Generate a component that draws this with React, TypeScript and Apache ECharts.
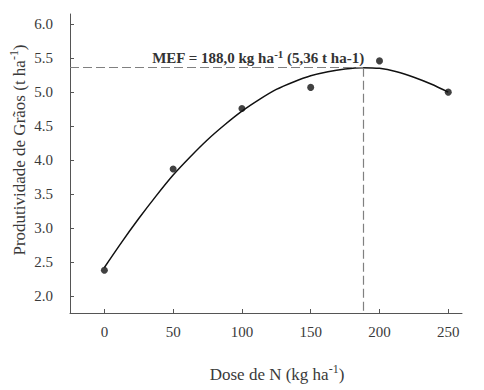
import React, { useEffect, useRef } from "react";
import * as echarts from "echarts";

const doses = [0, 50, 100, 150, 200, 250];
const yields = [2.38, 3.87, 4.76, 5.07, 5.46, 5.0];
const curveX = [0, 12.5, 25, 37.5, 50, 62.5, 75, 87.5, 100, 112.5, 125, 137.5, 150, 162.5, 175, 187.5, 200, 212.5, 225, 237.5, 250];
const curveY = [2.42, 2.79, 3.14, 3.47, 3.78, 4.05, 4.3, 4.52, 4.72, 4.89, 5.04, 5.15, 5.24, 5.3, 5.34, 5.36, 5.35, 5.3, 5.22, 5.12, 5.0];
const xTicks = [0, 50, 100, 150, 200, 250];
const yTicks = [2.0, 2.5, 3.0, 3.5, 4.0, 4.5, 5.0, 5.5, 6.0];
const mefDose = 188;
const mefYield = 5.36;

const FONT = "Liberation Serif";
const TXT = "#3a3a3a";
const AX = "#555555";

export default function App() {
  const ref = useRef<HTMLDivElement>(null);
  useEffect(() => {
    const chart = echarts.init(ref.current!, null, { renderer: "svg" });
    chart.setOption({
      animation: false,
      textStyle: { fontFamily: FONT },
      grid: { left: 70, top: 14, right: 22, bottom: 77 },
      xAxis: {
        type: "value",
        min: -25,
        max: 260,
        splitLine: { show: false },
        axisLine: { show: true, onZero: false, lineStyle: { color: AX, width: 1 } },
        axisTick: { show: true, inside: true, length: 4, customValues: xTicks, lineStyle: { color: AX } },
        axisLabel: {
          customValues: xTicks,
          formatter: (v: number) => "{t|" + String(v) + "}",
          rich: { t: { fontFamily: FONT, fontSize: 15, color: TXT } },
          fontFamily: FONT,
          fontSize: 15,
          color: TXT,
          margin: 11,
        },
      },
      yAxis: {
        type: "value",
        min: 1.75,
        max: 6.15,
        splitLine: { show: false },
        axisLine: { show: true, onZero: false, lineStyle: { color: AX, width: 1 } },
        axisTick: { show: true, inside: true, length: 4, customValues: yTicks, lineStyle: { color: AX } },
        axisLabel: {
          customValues: yTicks,
          formatter: (v: number) => "{t|" + v.toFixed(1) + "}",
          rich: { t: { fontFamily: FONT, fontSize: 15, color: TXT } },
          fontFamily: FONT,
          fontSize: 15,
          color: TXT,
          margin: 17,
        },
      },
      series: [
        {
          type: "line",
          data: curveX.map((x, i) => [x, curveY[i]]),
          smooth: 0.3,
          showSymbol: false,
          lineStyle: { color: "#111", width: 1.5 },
          markLine: {
            silent: true,
            symbol: "none",
            label: { show: false },
            lineStyle: { color: "#808080", type: [9, 4], width: 1.2 },
            data: [
              [{ coord: [-25, mefYield] }, { coord: [mefDose, mefYield] }],
              [{ coord: [mefDose, mefYield] }, { coord: [mefDose, 1.75] }],
            ],
          },
        },
        {
          type: "scatter",
          data: doses.map((x, i) => [x, yields[i]]),
          symbolSize: 7,
          itemStyle: { color: "#111" },
        },
      ],
      graphic: [
        {
          type: "text",
          x: 258,
          y: 58,
          style: {
            text: "{b|MEF = 188,0 kg ha}{s|-1}{b| (5,36 t ha-1)}",
            align: "center",
            verticalAlign: "middle",
            rich: {
              b: { fontFamily: FONT, fontSize: 15, fontWeight: "bold", fill: "#333" },
              s: { fontFamily: FONT, fontSize: 11, fontWeight: "bold", fill: "#333", padding: [0, 0, 8, 0] },
            },
          },
        },
        {
          type: "text",
          x: 19,
          y: 150,
          rotation: Math.PI / 2,
          style: {
            text: "{n|Produtividade de Grãos (t ha}{s|-1}{n|)}",
            align: "center",
            verticalAlign: "middle",
            rich: {
              n: { fontFamily: FONT, fontSize: 17, fill: TXT },
              s: { fontFamily: FONT, fontSize: 12, fill: TXT, padding: [0, 0, 10, 0] },
            },
          },
        },
        {
          type: "text",
          x: 277,
          y: 374,
          style: {
            text: "{n|Dose de N (kg ha}{s|-1}{n|)}",
            align: "center",
            verticalAlign: "middle",
            rich: {
              n: { fontFamily: FONT, fontSize: 17, fill: TXT },
              s: { fontFamily: FONT, fontSize: 12, fill: TXT, padding: [0, 0, 10, 0] },
            },
          },
        },
      ],
    });
    return () => chart.dispose();
  }, []);
  return <div ref={ref} style={{ position: "absolute", left: 0, top: 0, width: 484, height: 390 }} />;
}
